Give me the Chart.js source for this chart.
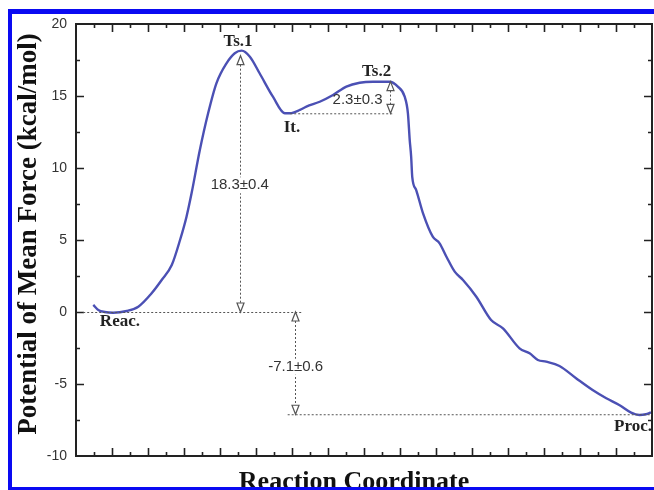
<!DOCTYPE html>
<html>
<head>
<meta charset="utf-8">
<script src="https://cdn.jsdelivr.net/npm/chart.js@4.4.1/dist/chart.umd.min.js"></script>
<style>
html, body { margin: 0; padding: 0; background: #fff; }
#wrap { position: relative; width: 654px; height: 490px; }
</style>
</head>
<body>
<div id="wrap"><canvas id="pmf"></canvas></div>
<script>
// reaction coordinate (no units) and potential of mean force (kcal/mol)
const coordValues = [0.48, 0.62, 0.80, 1.03, 1.41, 1.73, 2.10, 2.38, 2.66, 2.89, 3.07, 3.21, 3.44, 3.67, 3.90,
    4.18, 4.41, 4.60, 4.83, 5.10, 5.47, 5.80, 5.94, 6.22, 6.40, 6.77, 7.14, 7.51, 7.88, 8.25, 8.71, 8.94,
    9.13, 9.22, 9.27, 9.31, 9.34, 9.45, 9.64, 9.91, 10.10, 10.29, 10.52, 10.75, 11.12, 11.53, 11.86, 12.32,
    12.60, 12.83, 13.06, 13.43, 13.89, 14.35, 14.73, 15.09, 15.42, 15.65, 15.83, 15.97];
const pmfValues = [0.49, 0.14, 0.00, -0.05, 0.07, 0.37, 1.30, 2.22, 3.26, 5.00, 6.62, 8.24, 11.25, 13.80, 15.88,
    17.27, 17.97, 18.15, 17.73, 16.58, 14.95, 13.80, 13.80, 14.03, 14.26, 14.60, 15.07, 15.65, 15.92, 15.99, 15.99, 15.65,
    14.95, 13.80, 11.94, 10.78, 9.39, 8.47, 6.85, 5.23, 4.77, 3.84, 2.80, 2.22, 1.06, -0.56, -1.13, -2.52,
    -2.87, -3.33, -3.45, -3.75, -4.60, -5.42, -5.99, -6.46, -6.99, -7.15, -7.10, -6.97];
const yTickValues = [-10, -5, 0, 5, 10, 15, 20];

// stationary points and the energy differences marked on the plot
const stateNames = ['Reac.', 'Ts.1', 'It.', 'Ts.2', 'Proc.'];
const stateEnergies = [0, 18.3, 13.8, 16.0, -7.1];
const barrierLabels = ['18.3\u00b10.4', '2.3\u00b10.3', '-7.1\u00b10.6'];

const xTitle = 'Reaction Coordinate';
const yTitle = 'Potential of Mean Force (kcal/mol)';

const points = coordValues.map((c, i) => ({ x: c, y: pmfValues[i] }));

const serif = "'Liberation Serif', 'Times New Roman', serif";
const sans = "'Liberation Sans', Arial, sans-serif";

// frame with inward ticks on all four sides
const frameTicks = {
    id: 'frameTicks',
    afterDatasetsDraw(chart) {
        const { ctx, chartArea: a, scales: { x, y } } = chart;
        ctx.save();
        ctx.strokeStyle = '#222';
        ctx.lineWidth = 1.6;
        ctx.beginPath();
        for (let v = 0.5; v < 16; v += 0.5) {
            const px = Math.round(x.getPixelForValue(v)) + 0.5;
            const len = v % 1 === 0 ? 8 : 4;
            ctx.moveTo(px, a.bottom); ctx.lineTo(px, a.bottom - len);
            ctx.moveTo(px, a.top); ctx.lineTo(px, a.top + len);
        }
        for (let v = -7.5; v < 20; v += 2.5) {
            const py = Math.round(y.getPixelForValue(v)) + 0.5;
            const len = v % 5 === 0 ? 8 : 4;
            ctx.moveTo(a.left, py); ctx.lineTo(a.left + len, py);
            ctx.moveTo(a.right, py); ctx.lineTo(a.right - len, py);
        }
        ctx.stroke();
        ctx.lineWidth = 2;
        ctx.strokeRect(a.left, a.top, a.right - a.left, a.bottom - a.top);
        ctx.restore();
    }
};

function arrowHead(ctx, px, tip, dir) {
    // dir -1 = pointing up, 1 = pointing down
    ctx.beginPath();
    ctx.moveTo(px, tip);
    ctx.lineTo(px - 3.5, tip - dir * 9);
    ctx.lineTo(px + 3.5, tip - dir * 9);
    ctx.closePath();
    ctx.fillStyle = '#fff';
    ctx.fill();
    ctx.stroke();
}

function dotted(ctx, x1, y1, x2, y2) {
    ctx.beginPath();
    ctx.moveTo(x1, y1);
    ctx.lineTo(x2, y2);
    ctx.stroke();
}

const notes = {
    id: 'notes',
    afterDatasetsDraw(chart) {
        const { ctx, scales: { x, y } } = chart;
        const X = v => x.getPixelForValue(v);
        const Y = v => y.getPixelForValue(v);
        ctx.save();
        ctx.strokeStyle = '#555';
        ctx.lineWidth = 1;

        // dotted reference levels
        ctx.setLineDash([2, 2]);
        dotted(ctx, X(0.2), Y(stateEnergies[0]) + 0.5, X(6.3), Y(stateEnergies[0]) + 0.5);
        dotted(ctx, X(5.95), Y(stateEnergies[2]) + 0.5, X(8.8), Y(stateEnergies[2]) + 0.5);
        dotted(ctx, X(5.88), Y(stateEnergies[4]) + 0.5, X(16), Y(stateEnergies[4]) + 0.5);

        // vertical arrows
        const arrows = [
            { at: 4.55, top: 17.8, bottom: 0 },
            { at: 8.73, top: stateEnergies[3], bottom: stateEnergies[2] },
            { at: 6.08, top: 0, bottom: stateEnergies[4] }
        ];
        arrows.forEach(ar => {
            const px = Math.round(X(ar.at)) + 0.5;
            ctx.setLineDash([2, 2]);
            dotted(ctx, px, Y(ar.top) + 9, px, Y(ar.bottom) - 9);
            ctx.setLineDash([]);
            ctx.lineWidth = 1.2;
            arrowHead(ctx, px, Y(ar.top), -1);
            arrowHead(ctx, px, Y(ar.bottom), 1);
            ctx.lineWidth = 1;
        });

        // energy difference labels
        ctx.font = '15px ' + sans;
        ctx.textAlign = 'center';
        ctx.textBaseline = 'middle';
        const spots = [[4.55, 8.8, true], [7.82, 14.7, false], [6.1, -3.8, true]];
        barrierLabels.forEach((t, i) => {
            const [cx, cy, bg] = spots[i];
            const w = ctx.measureText(t).width;
            if (bg) {
                ctx.fillStyle = '#fff';
                ctx.fillRect(X(cx) - w / 2 - 1, Y(cy) - 8, w + 2, 16);
            }
            ctx.fillStyle = '#333';
            ctx.fillText(t, X(cx), Y(cy));
        });

        // state names
        ctx.font = 'bold 17px ' + serif;
        ctx.fillStyle = '#222';
        const namePos = [[1.22, -0.7, 'center'], [4.5, 18.8, 'center'], [6.0, 12.8, 'center'], [8.35, 16.7, 'center'], [16, -7.95, 'right']];
        stateNames.forEach((n, i) => {
            const [cx, cy, al] = namePos[i];
            ctx.textAlign = al;
            ctx.fillText(n, X(cx), Y(cy));
        });
        ctx.restore();
    }
};

// axis titles and the blue page border around the figure
const border = {
    id: 'border',
    afterDraw(chart) {
        const ctx = chart.ctx;
        ctx.save();
        ctx.fillStyle = '#111';
        ctx.textAlign = 'center';
        ctx.textBaseline = 'alphabetic';
        ctx.font = 'bold 26px ' + serif;
        ctx.fillText(xTitle, 354, 489);
        ctx.translate(36, 234);
        ctx.rotate(-Math.PI / 2);
        ctx.font = 'bold 27px ' + serif;
        ctx.fillText(yTitle, 0, 0);
        ctx.restore();

        ctx.save();
        ctx.fillStyle = '#0a0af2';
        ctx.fillRect(8, 9, 646, 5);
        ctx.fillRect(8, 9, 4, 481);
        ctx.fillRect(8, 487, 646, 3);
        ctx.restore();
    }
};

new Chart(document.getElementById('pmf'), {
    type: 'line',
    data: {
        datasets: [{
            data: points,
            borderColor: '#4b50b4',
            borderWidth: 2.4,
            pointRadius: 0,
            cubicInterpolationMode: 'monotone',
            fill: false
        }]
    },
    options: {
        responsive: true,
        maintainAspectRatio: false,
        animation: false,
        layout: { padding: { top: 24, right: 2, left: 0, bottom: 0 } },
        plugins: { legend: { display: false }, tooltip: { enabled: false } },
        scales: {
            x: {
                type: 'linear',
                min: 0,
                max: 16,
                grid: { display: false },
                border: { display: false },
                ticks: { display: false },
                afterFit(s) { s.height = 34; }
            },
            y: {
                min: -10,
                max: 20,
                afterBuildTicks(s) { s.ticks = yTickValues.map(v => ({ value: v })); },
                grid: { display: false, drawTicks: false },
                border: { display: false },
                ticks: {
                    color: '#333',
                    padding: 9,
                    font: { family: sans, size: 14 }
                },
                afterFit(s) { s.width = 76; }
            }
        }
    },
    plugins: [frameTicks, notes, border]
});
</script>
</body>
</html>
